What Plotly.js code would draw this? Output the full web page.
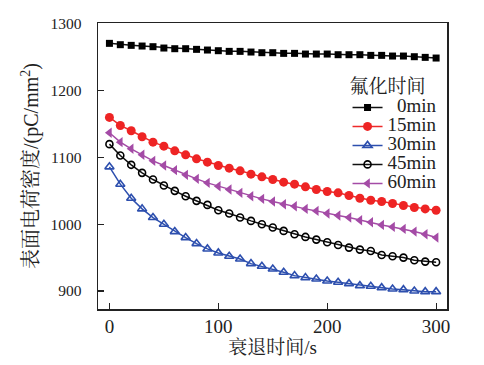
<!DOCTYPE html>
<html>
<head>
<meta charset="utf-8">
<script src="https://cdn.plot.ly/plotly-3.0.1.min.js"></script>
<style>html,body{margin:0;padding:0;background:#fff;}#chart{width:484px;height:365px;}</style>
</head>
<body>
<div id="chart"></div>
<script>
var decayTime = [0,10,20,30,40,50,60,70,80,90,100,110,120,130,140,150,160,170,180,190,200,210,220,230,240,250,260,270,280,290,300];
var seriesNames = ["\u20070min","15min","30min","45min","60min"];
var s0min  = [1271,1269,1268,1267,1266,1264,1263,1263,1262,1261,1260,1259,1259,1258,1257,1257,1256,1256,1255,1255,1255,1254,1254,1254,1253,1253,1252,1252,1251,1250,1249];
var s15min = [1160,1148,1140,1131,1123,1117,1110,1104,1098,1093,1088,1084,1080,1075,1071,1067,1063,1060,1056,1052,1049,1047,1043,1039,1036,1034,1031,1028,1025,1023,1021];
var s30min = [1086,1060,1039,1023,1010,1000,989,980,971,963,957,952,948,941,937,933,928,923,920,918,915,913,911,908,907,905,903,902,900,899,899];
var s45min = [1120,1103,1089,1077,1067,1058,1050,1042,1035,1029,1021,1016,1010,1005,1000,995,990,985,981,977,973,969,965,962,960,954,952,950,946,944,943];
var s60min = [1137,1123,1113,1104,1095,1088,1081,1074,1068,1062,1057,1052,1047,1042,1038,1034,1030,1027,1023,1020,1016,1013,1010,1006,1003,999,996,993,989,985,980];
var xTickVals = [0,100,200,300];
var yTickVals = [900,1000,1100,1200,1300];

var serif = "'Liberation Serif', 'Times New Roman', Times, 'Noto Serif CJK SC', 'Noto Sans CJK SC', serif";
var styles = [
  {line:'#111111', marker:{symbol:'square', size:7, color:'#000000'}},
  {line:'#ee2a2a', marker:{symbol:'circle', size:9, color:'#ee2424'}},
  {line:'#2d4fae', marker:{symbol:'triangle-up-open', size:8, color:'#2d4fae', line:{width:1.6, color:'#2d4fae'}}},
  {line:'#111111', marker:{symbol:'circle-open', size:7, color:'#000000', line:{width:1.6, color:'#000000'}}},
  {line:'#a44ba6', marker:{symbol:'triangle-left', size:9, color:'#a44ba6'}}
];
var allSeries = [s0min, s15min, s30min, s45min, s60min];
var traces = allSeries.map(function(ys, i){
  return {
    x: decayTime, y: ys, type:'scatter', mode:'lines+markers',
    name: '<span style="font-family:Liberation Serif;font-size:19px">' + seriesNames[i] + '</span>',
    line:{color:styles[i].line, width:1.5},
    marker: styles[i].marker
  };
});

var layout = {
  width:484, height:365,
  margin:{l:98, r:37, t:23, b:56},
  paper_bgcolor:'#ffffff', plot_bgcolor:'#ffffff',
  font:{family:serif, color:'#222222', size:16},
  showlegend:true,
  legend:{
    x:0.715, y:0.842, xanchor:'left', yanchor:'top',
    bgcolor:'rgba(0,0,0,0)', borderwidth:0,
    font:{family:serif, size:11, color:'#222222'},
    title:{text:'氟化时间', font:{family:serif, size:19, color:'#222222'}},
    itemwidth:30, tracegroupgap:0
  },
  xaxis:{
    range:[-10.5, 310], tickvals:xTickVals, ticktext:xTickVals.map(String),
    showline:true, linecolor:'#222222', linewidth:1.5, mirror:true,
    ticks:'inside', ticklen:6, tickwidth:1.2, tickcolor:'#222222',
    showgrid:false, zeroline:false,
    tickfont:{family:serif, size:19, color:'#222222'},
    title:{text:'衰退时间/s', font:{family:serif, size:19, color:'#222222'}, standoff:2}
  },
  yaxis:{
    range:[873, 1301.5], tickvals:yTickVals, ticktext:yTickVals.map(String),
    showline:true, linecolor:'#222222', linewidth:1.5, mirror:true,
    ticks:'inside', ticklen:6, tickwidth:1.2, tickcolor:'#222222',
    showgrid:false, zeroline:false,
    tickfont:{family:serif, size:15.5, color:'#222222'},
    ticklabelstandoff:12,
    title:{text:'表面电荷密度/(pC/mm<sup>2</sup>)', font:{family:serif, size:20, color:'#222222'}, standoff:6}
  }
};
Plotly.newPlot('chart', traces, layout, {displayModeBar:false, staticPlot:true});
</script>
</body>
</html>
